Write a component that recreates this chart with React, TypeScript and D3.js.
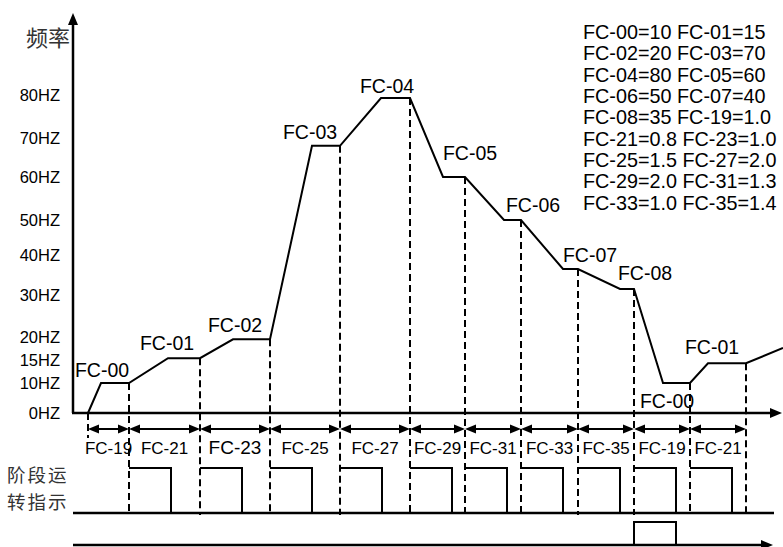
import React from 'react';
import * as d3 from 'd3';

// ---- data ----
const freqTicks = [0, 10, 15, 20, 30, 40, 50, 60, 70, 80];
const freqTickLabels = ['0HZ', '10HZ', '15HZ', '20HZ', '30HZ', '40HZ', '50HZ', '60HZ', '70HZ', '80HZ'];

// frequency curve (time units, Hz as read on the axis)
const curveTime = [0, 1.3, 4.1, 8.0, 11.2, 14.5, 18.2, 22.4, 25.2, 29.3, 32.2, 35.5, 37.7, 41.6, 43.3, 47.5, 49.0, 53.2, 54.6, 57.5, 60.2, 62.0, 65.8, 69.5];
const curveFreq = [0, 10, 10, 15.4, 15.4, 19.5, 19.5, 68, 68, 79.3, 79.3, 60, 60, 50, 50, 36.5, 36.5, 31.5, 31.5, 10, 10, 14.3, 14.3, 17.6];

// stage boundaries and the stage-time parameter under each span
const stageBounds = [0, 4.1, 11.2, 18.2, 25.2, 32.2, 37.7, 43.3, 49.0, 54.6, 60.2, 65.8];
const stageLabels = ['FC-19', 'FC-21', 'FC-23', 'FC-25', 'FC-27', 'FC-29', 'FC-31', 'FC-33', 'FC-35', 'FC-19', 'FC-21'];
const pulseLength = 4.2;
const cycleEndIndex = 9;

// speed labels on the curve
const curveLabels = ['FC-00', 'FC-01', 'FC-02', 'FC-03', 'FC-04', 'FC-05', 'FC-06', 'FC-07', 'FC-08', 'FC-00', 'FC-01'];
const curveLabelTime = [1.4, 7.9, 14.7, 22.2, 29.9, 38.2, 44.5, 50.2, 55.7, 57.9, 62.4];
const curveLabelFreq = [12.8, 18.7, 22.9, 71.4, 82.1, 66.2, 53.5, 40, 35.5, 4.1, 17.8];

// parameter list
const paramNames = ['FC-00', 'FC-01', 'FC-02', 'FC-03', 'FC-04', 'FC-05', 'FC-06', 'FC-07', 'FC-08', 'FC-19', 'FC-21', 'FC-23', 'FC-25', 'FC-27', 'FC-29', 'FC-31', 'FC-33', 'FC-35'];
const paramValues = ['10', '15', '20', '70', '80', '60', '50', '40', '35', '1.0', '0.8', '1.0', '1.5', '2.0', '2.0', '1.3', '1.0', '1.4'];

const yAxisTitle = '频率';
const indicatorTitle = ['阶段运', '转指示'];

const FONT = '"Liberation Sans", Arial, sans-serif';
const CJK = '"Noto Sans CJK SC", sans-serif';

export default function App() {
  const W = 783, H = 547;
  const axisX = 73;
  const yTop = 13;
  const xEnd = 782;
  const arrowRowY = 429;
  const stageLabelY = 454;
  const indBase = 513, indTop = 468, indEnd = 774;
  const botBase = 545, botTop = 522, botEnd = 773;

  const x = d3.scaleLinear().domain([0, 10]).range([88, 188]);
  const y = d3.scaleLinear()
    .domain(freqTicks)
    .range([413, 383, 360, 337, 295, 255, 220, 177, 138, 95]);

  const curveAt = d3.scaleLinear().domain(curveTime).range(curveFreq);

  const line = d3.line<number>()
    .x((_, i) => x(curveTime[i]))
    .y((d) => y(d));
  const curvePath = line(curveFreq) || '';

  const upHead = (px: number, py: number) => `${px},${py} ${px - 5},${py + 12} ${px + 5},${py + 12}`;
  const rightHead = (px: number, py: number, l = 12, w = 5) => `${px},${py} ${px - l},${py - w} ${px - l},${py + w}`;
  const leftHead = (px: number, py: number, l = 11, w = 4.5) => `${px},${py} ${px + l},${py - w} ${px + l},${py + w}`;

  const legendLines: string[] = [];
  for (let i = 0; i < paramNames.length; i += 2) {
    legendLines.push(`${paramNames[i]}=${paramValues[i]} ${paramNames[i + 1]}=${paramValues[i + 1]}`);
  }

  return (
    <svg width={W} height={H} style={{ position: 'absolute', left: 0, top: 0, background: '#fff' }}>
      {/* y axis */}
      <line x1={axisX} y1={y(0)} x2={axisX} y2={yTop + 8} stroke="#000" strokeWidth={2.5} />
      <polygon points={upHead(axisX, yTop)} fill="#000" />
      {/* x axis */}
      <line x1={axisX - 1} y1={y(0)} x2={xEnd - 8} y2={y(0)} stroke="#000" strokeWidth={2.5} />
      <polygon points={rightHead(xEnd, y(0))} fill="#000" />

      {/* y tick labels */}
      {freqTicks.map((v, i) => (
        <text key={i} x={60} y={y(v)} dy="0.36em" textAnchor="end" fontFamily={FONT} fontSize={16.5} fill="#000">
          {freqTickLabels[i]}
        </text>
      ))}
      <text x={70} y={38} dy="0.36em" textAnchor="end" fontFamily={CJK} fontSize={22} fill="#333">{yAxisTitle}</text>

      {/* dashed stage boundaries */}
      <line x1={x(stageBounds[0])} y1={y(0)} x2={x(stageBounds[0])} y2={438} stroke="#000" strokeWidth={2} strokeDasharray="7,4" />
      {stageBounds.slice(1).map((t, i) => (
        <line key={i} x1={x(t)} y1={y(curveAt(t))} x2={x(t)} y2={indBase + 2} stroke="#000" strokeWidth={2} strokeDasharray="7,4" />
      ))}

      {/* frequency curve */}
      <path d={curvePath} fill="none" stroke="#000" strokeWidth={2} strokeLinejoin="miter" />

      {/* curve labels */}
      {curveLabels.map((s, i) => (
        <text key={i} x={x(curveLabelTime[i])} y={y(curveLabelFreq[i])} dy="0.36em" textAnchor="middle" fontFamily={FONT} fontSize={19.5} fill="#000">
          {s}
        </text>
      ))}

      {/* stage arrows */}
      {stageLabels.map((s, i) => {
        const a = x(stageBounds[i]);
        const b = x(stageBounds[i + 1]);
        return (
          <g key={i}>
            <line x1={a + 6} y1={arrowRowY} x2={b - 6} y2={arrowRowY} stroke="#000" strokeWidth={2} />
            <polygon points={leftHead(a, arrowRowY)} fill="#000" />
            <polygon points={rightHead(b, arrowRowY, 11, 4.5)} fill="#000" />
            <text x={(a + b) / 2} y={stageLabelY} textAnchor="middle" fontFamily={FONT} fontSize={i === 2 ? 19 : 17} fill="#000">
              {s}
            </text>
          </g>
        );
      })}

      {/* stage indicator */}
      <text x={7} y={475} dy="0.36em" fontFamily={CJK} fontSize={18.5} letterSpacing={2} fill="#333">{indicatorTitle[0]}</text>
      <text x={7} y={502} dy="0.36em" fontFamily={CJK} fontSize={18.5} letterSpacing={2} fill="#333">{indicatorTitle[1]}</text>
      <line x1={axisX} y1={indBase} x2={indEnd} y2={indBase} stroke="#000" strokeWidth={2.5} />
      {stageBounds.slice(1, stageBounds.length - 1).map((t, i) => (
        <path key={i} d={`M${x(t)},${indTop} H${x(t + pulseLength)} V${indBase}`} fill="none" stroke="#000" strokeWidth={2} />
      ))}

      {/* cycle end indicator */}
      <line x1={axisX} y1={botBase} x2={botEnd - 8} y2={botBase} stroke="#000" strokeWidth={2.5} />
      <polygon points={rightHead(botEnd, botBase)} fill="#000" />
      <path
        d={`M${x(stageBounds[cycleEndIndex])},${botBase} V${botTop} H${x(stageBounds[cycleEndIndex] + pulseLength)} V${botBase}`}
        fill="none" stroke="#000" strokeWidth={2}
      />

      {/* parameter legend */}
      {legendLines.map((s, i) => (
        <text key={i} x={583} y={32 + i * 21.3} dy="0.36em" fontFamily={FONT} fontSize={19.8} fill="#000">
          {s}
        </text>
      ))}
    </svg>
  );
}
